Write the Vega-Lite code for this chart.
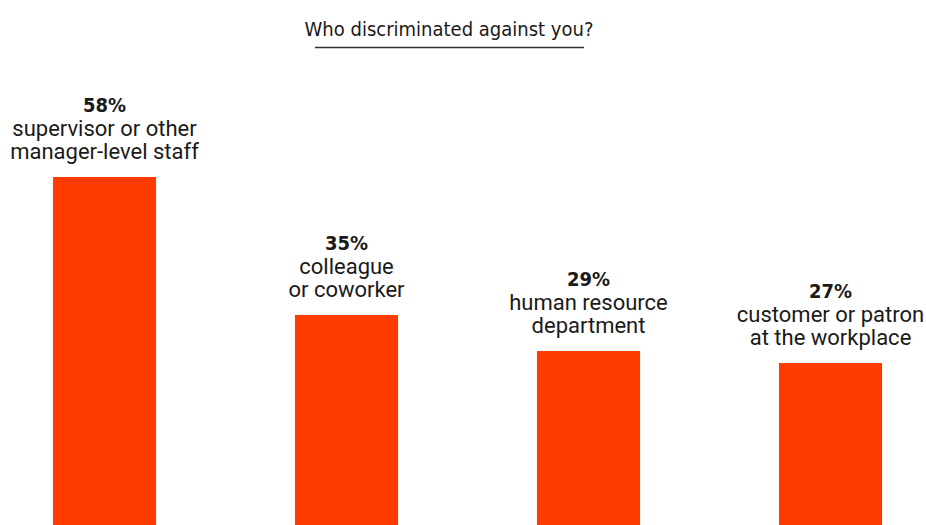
{
  "$schema": "https://vega.github.io/schema/vega-lite/v6.json",
  "width": 926,
  "height": 525,
  "autosize": {"type": "none"},
  "padding": 0,
  "background": "white",
  "config": {"view": {"stroke": null}},
  "title": {
    "text": "Who discriminated against you?",
    "font": "DejaVu Sans Condensed",
    "fontSize": 20,
    "fontWeight": "normal",
    "color": "#1a1a1a",
    "anchor": "middle",
    "baseline": "alphabetic",
    "offset": -56,
    "dx": -14
  },
  "data": {
    "values": [
      {"who": "supervisor", "label": "supervisor or other\nmanager-level staff", "pct": 0.58},
      {"who": "colleague", "label": "colleague\nor coworker", "pct": 0.35},
      {"who": "hr", "label": "human resource\ndepartment", "pct": 0.29},
      {"who": "customer", "label": "customer or patron\nat the workplace", "pct": 0.27}
    ]
  },
  "encoding": {
    "y": {
      "field": "pct", "type": "quantitative",
      "scale": {"domain": [0, 0.875], "nice": false, "zero": true},
      "axis": null
    }
  },
  "layer": [
    {
      "encoding": {
        "x": {
          "field": "who", "type": "nominal", "sort": null,
          "scale": {"range": [-16.5, 951.5], "paddingInner": 0.574, "paddingOuter": 0.287},
          "axis": null
        }
      },
      "layer": [
        {"mark": {"type": "bar", "color": "#ff3b00"}},
        {
          "mark": {"type": "text", "font": "DejaVu Sans Condensed", "fontWeight": "bold", "fontSize": 20, "color": "#1a1a1a", "baseline": "alphabetic", "dy": -65},
          "encoding": {"text": {"field": "pct", "type": "quantitative", "format": ".0%"}}
        },
        {
          "mark": {"type": "text", "font": "Roboto", "fontSize": 22, "color": "#1a1a1a", "baseline": "alphabetic", "dy": -41, "lineBreak": "\n", "lineHeight": 23},
          "encoding": {"text": {"field": "label", "type": "nominal"}}
        }
      ]
    },
    {
      "data": {"values": [{"x1": 0.869, "x2": 1.980, "y": 0.7958}]},
      "mark": {"type": "rule", "stroke": "#333333", "strokeWidth": 1.6},
      "encoding": {
        "x": {"field": "x1", "type": "quantitative", "scale": {"domain": [-0.4315, 3.392], "nice": false, "zero": false}, "axis": null},
        "x2": {"field": "x2"},
        "y": {"field": "y", "type": "quantitative"}
      }
    }
  ],
  "resolve": {"scale": {"x": "independent"}}
}
